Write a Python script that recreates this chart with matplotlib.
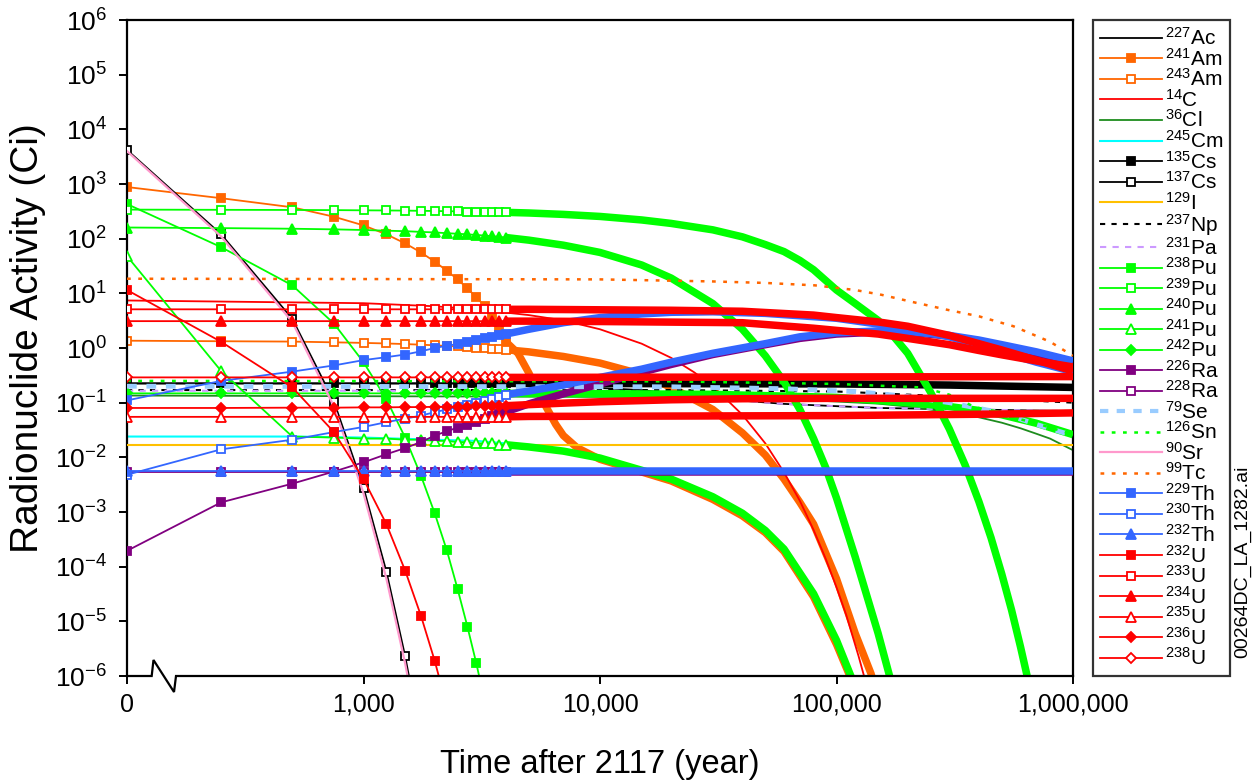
import numpy as np
import matplotlib
matplotlib.use("Agg")
import matplotlib.pyplot as plt
from matplotlib.lines import Line2D
from matplotlib.ticker import FixedLocator, FixedFormatter, LogLocator, LogFormatterSciNotation, NullLocator

plt.rcParams['font.family'] = ['Liberation Sans', 'DejaVu Sans']
plt.rcParams['mathtext.fontset'] = 'custom'
plt.rcParams['mathtext.rm'] = 'Liberation Sans'
plt.rcParams['mathtext.it'] = 'Liberation Sans:italic'
plt.rcParams['mathtext.bf'] = 'Liberation Sans:bold'

# ---------------- data (years after 2117, activity in Ci) ----------------
T_EARLY = [0, 250, 500, 750, 1000, 1250, 1500, 1750, 2000, 2250, 2500, 2750, 3000, 3250, 3500, 3750, 4000]

ac227_t = [0, 3000, 7000, 15000, 30000, 60000, 150000, 1000000]
ac227_y = [0.225, 0.225, 0.2, 0.17, 0.12, 0.095, 0.08, 0.07]

am241_t = T_EARLY + [4500, 5000, 5500, 6000, 6500, 7000, 8000, 10000, 15000, 20000, 30000, 40000, 50000, 60000, 80000, 100000, 115000, 130000]
am241_y = [880, 550, 375, 252, 175, 120, 82, 56, 38, 26, 18, 12.3, 8.5, 5.9, 3.5, 2.3, 1.3,
           0.8, 0.35, 0.15, 0.075, 0.04, 0.025, 0.015, 0.0092, 0.0054, 0.0037, 0.0017, 8.5e-4, 4.2e-4, 1.9e-4, 2.8e-5, 3.8e-6, 9e-7, 1.4e-7]

am243_t = T_EARLY + [5000, 7000, 10000, 15000, 20000, 30000, 40000, 50000, 60000, 70000, 80000, 100000, 120000, 140000, 160000]
am243_y = [1.36, 1.33, 1.31, 1.27, 1.24, 1.21, 1.18, 1.15, 1.12, 1.09, 1.07, 1.04, 1.01, 0.99, 0.96, 0.94, 0.93,
           0.85, 0.70, 0.53, 0.33, 0.19, 0.075, 0.028, 0.011, 4e-3, 1.5e-3, 6e-4, 6e-5, 6e-6, 1.1e-6, 1.5e-7]

c14_t = [0, 1000, 2000, 3000, 5000, 7000, 10000, 15000, 20000, 25000, 30000, 40000, 50000, 60000, 70000, 80000, 90000, 100000, 110000, 124000, 140000]
c14_y = [7.4, 6.6, 5.8, 5.1, 4.0, 3.2, 2.2, 1.2, 0.66, 0.36, 0.20, 0.060, 0.018, 5.3e-3, 1.6e-3, 4.7e-4, 1.4e-4, 4.2e-5, 1.3e-5, 2.3e-6, 3.4e-7]

cl36_t = [0, 30000, 80000, 150000, 200000, 300000, 400000, 500000, 600000, 700000, 800000, 900000, 1000000]
cl36_y = [0.135, 0.126, 0.11, 0.096, 0.085, 0.067, 0.054, 0.043, 0.034, 0.027, 0.022, 0.017, 0.0135]

cm245_t = [0, 500, 1000, 2000, 3000, 4000, 5000, 7000, 10000, 15000, 20000, 30000, 40000, 50000, 60000, 80000, 100000, 115000, 130000]
cm245_y = [0.024, 0.024, 0.023, 0.021, 0.020, 0.018, 0.016, 0.0133, 0.0096, 0.0057, 0.0039, 0.0018, 9.3e-4, 4.5e-4, 2.0e-4, 3.1e-5, 4.3e-6, 1.0e-6, 1.5e-7]

cs135_t = T_EARLY + [5000, 100000, 300000, 1000000]
cs135_y = [0.225, 0.225, 0.225, 0.225, 0.225, 0.225, 0.225, 0.225, 0.225, 0.225, 0.225, 0.225, 0.225, 0.225, 0.225, 0.225, 0.225,
           0.225, 0.22, 0.21, 0.19]

cs137_t = [0, 250, 500, 750, 1000, 1250, 1500, 1750]
cs137_y = [4200, 120, 3.4, 0.105, 2.8e-3, 8.1e-5, 2.3e-6, 7e-8]

i129_t = [0, 1000000]
i129_y = [0.017, 0.017]

np237_t = [0, 20000, 100000, 300000, 1000000]
np237_y = [0.17, 0.17, 0.16, 0.13, 0.1]

pa231_t = [0, 5000, 10000, 30000, 60000, 150000, 1000000]
pa231_y = [0.165, 0.165, 0.15, 0.12, 0.095, 0.08, 0.07]

pu238_t = [0, 250, 500, 750, 1000, 1250, 1500, 1750, 2000, 2250, 2500, 2750, 3000, 3250]
pu238_y = [430, 70, 14, 2.8, 0.55, 0.115, 0.023, 4.6e-3, 9.5e-4, 2.0e-4, 3.9e-5, 8e-6, 1.7e-6, 3.5e-7]

pu239_t = T_EARLY + [5000, 7000, 10000, 15000, 20000, 30000, 40000, 50000, 60000, 70000, 80000, 100000, 120000, 150000,
                     175000, 200000, 250000, 300000, 350000, 400000, 450000, 500000, 550000, 600000, 650000, 700000]
pu239_y = [340, 337, 335, 333, 330, 328, 326, 323, 321, 318, 316, 314, 312, 309, 307, 305, 303,
           295, 278, 255, 220, 190, 145, 108, 78, 58, 40, 27, 11.5, 6.5, 3.2,
           1.6, 0.8, 0.155, 0.033, 7.2e-3, 1.55e-3, 3.4e-4, 7.3e-5, 1.6e-5, 3.4e-6, 7.4e-7, 1.6e-7]

pu240_t = T_EARLY + [5000, 7000, 10000, 15000, 20000, 30000, 40000, 50000, 60000, 70000, 80000, 90000, 100000, 120000, 150000, 170000, 180000]
pu240_y = [160, 156, 152, 148, 144, 140, 137, 133, 130, 126, 123, 120, 117, 114, 111, 108, 105,
           94, 76, 56, 33, 19, 6.5, 2.2, 0.72, 0.24, 0.075, 0.022, 6.5e-3, 1.8e-3, 1.5e-4, 6e-6, 8e-7, 2.5e-7]

pu241_t = T_EARLY + [5000, 7000, 10000, 15000, 20000, 30000, 40000, 50000, 60000, 80000, 100000, 115000, 130000]
pu241_y = [48, 0.38, 0.024, 0.023, 0.022, 0.022, 0.021, 0.021, 0.020, 0.020, 0.019, 0.019, 0.018, 0.018, 0.018, 0.017, 0.017,
           0.0155, 0.013, 0.0097, 0.0058, 0.0040, 0.0019, 9.5e-4, 4.6e-4, 2.1e-4, 3.2e-5, 4.5e-6, 1.0e-6, 1.5e-7]

pu242_t = T_EARLY + [5000, 10000, 30000, 100000, 200000, 300000, 400000, 500000, 700000, 1000000]
pu242_y = [0.148, 0.148, 0.148, 0.148, 0.148, 0.148, 0.148, 0.148, 0.148, 0.148, 0.148, 0.148, 0.148, 0.148, 0.148, 0.148, 0.148,
           0.147, 0.146, 0.142, 0.125, 0.10, 0.085, 0.072, 0.06, 0.042, 0.026]

ra226_t = T_EARLY + [5000, 7000, 10000, 15000, 20000, 30000, 50000, 70000, 100000, 150000, 200000, 300000, 400000, 500000, 700000, 1000000]
ra226_y = [1.95e-4, 1.5e-3, 3.3e-3, 5.5e-3, 8.1e-3, 0.0114, 0.0148, 0.019, 0.025, 0.030, 0.035, 0.039, 0.045, 0.051, 0.057, 0.062, 0.068,
           0.095, 0.145, 0.22, 0.36, 0.5, 0.76, 1.15, 1.5, 1.8, 1.95, 1.95, 1.65, 1.35, 1.1, 0.8, 0.55]

ra228_t = T_EARLY + [5000, 1000000]
ra228_y = [0.0055, 0.0055, 0.0055, 0.0055, 0.0055, 0.0055, 0.0055, 0.0055, 0.0055, 0.0055, 0.0055, 0.0055, 0.0055, 0.0055, 0.0055, 0.0055, 0.0055,
           0.0055, 0.0055]

se79_t = [0, 20000, 60000, 120000, 200000, 300000, 500000, 700000, 1000000]
se79_y = [0.2, 0.195, 0.18, 0.16, 0.13, 0.1, 0.065, 0.04, 0.025]

sn126_t = [0, 20000, 100000, 230000, 300000, 380000, 500000, 700000, 1000000]
sn126_y = [0.25, 0.245, 0.22, 0.19, 0.14, 0.085, 0.06, 0.042, 0.026]

sr90_t = [0, 250, 500, 750, 1000, 1250, 1500, 1750]
sr90_y = [4000, 110, 3.0, 0.085, 2.2e-3, 6e-5, 1.7e-6, 5e-8]

tc99_t = [0, 10000, 30000, 50000, 81000, 120000, 155000, 208000, 294000, 400000, 560000, 800000, 1000000]
tc99_y = [18.5, 18, 16.5, 15.5, 14, 11.5, 9.4, 7.0, 5.0, 3.8, 2.5, 1.3, 0.72]

th229_t = T_EARLY + [5000, 7000, 10000, 15000, 20000, 30000, 50000, 100000, 200000, 300000, 500000, 700000, 1000000]
th229_y = [0.11, 0.25, 0.37, 0.48, 0.6, 0.68, 0.76, 0.87, 1.0, 1.1, 1.18, 1.3, 1.4, 1.5, 1.6, 1.7, 1.8,
           2.2, 2.9, 3.6, 4.2, 4.5, 4.6, 4.3, 3.5, 2.3, 1.6, 0.85, 0.55, 0.37]

th230_t = T_EARLY + [5000, 7000, 10000, 15000, 20000, 30000, 50000, 70000, 100000, 150000, 200000, 300000, 400000, 500000, 700000, 1000000]
th230_y = [4.8e-3, 0.014, 0.021, 0.029, 0.036, 0.044, 0.051, 0.058, 0.067, 0.075, 0.083, 0.092, 0.10, 0.108, 0.117, 0.125, 0.14,
           0.163, 0.21, 0.29, 0.41, 0.55, 0.8, 1.2, 1.6, 1.9, 2.05, 2.0, 1.7, 1.4, 1.15, 0.85, 0.58]

th232_t = T_EARLY + [5000, 1000000]
th232_y = [0.0056, 0.0056, 0.0056, 0.0056, 0.0056, 0.0056, 0.0056, 0.0056, 0.0056, 0.0056, 0.0056, 0.0056, 0.0056, 0.0056, 0.0056, 0.0056, 0.0056,
           0.0056, 0.0056]

u232_t = [0, 250, 500, 750, 1000, 1250, 1500, 1750, 2000, 2250]
u232_y = [11.5, 1.3, 0.19, 0.029, 4.0e-3, 6.0e-4, 8.5e-5, 1.26e-5, 1.9e-6, 2.8e-7]

u233_t = T_EARLY + [5000, 10000, 20000, 40000, 80000, 100000, 150000, 200000, 300000, 400000, 500000, 700000, 1000000]
u233_y = [5.1, 5.1, 5.1, 5.1, 5.1, 5.1, 5.1, 5.1, 5.1, 5.1, 5.1, 5.1, 5.1, 5.1, 5.1, 5.1, 5.1,
          5.1, 5.0, 4.9, 4.7, 4.0, 3.6, 3.0, 2.5, 1.7, 1.2, 0.92, 0.6, 0.38]

u234_t = T_EARLY + [5000, 10000, 40000, 80000, 100000, 150000, 200000, 300000, 400000, 500000, 700000, 1000000]
u234_y = [3.1, 3.1, 3.1, 3.1, 3.1, 3.1, 3.1, 3.1, 3.1, 3.1, 3.1, 3.1, 3.1, 3.1, 3.1, 3.1, 3.1,
          3.1, 3.05, 2.9, 2.3, 2.1, 1.8, 1.5, 1.15, 0.9, 0.75, 0.58, 0.45]

u235_t = T_EARLY + [5000, 100000, 500000, 1000000]
u235_y = [0.055, 0.055, 0.055, 0.055, 0.055, 0.055, 0.055, 0.055, 0.055, 0.055, 0.055, 0.055, 0.055, 0.055, 0.055, 0.055, 0.055,
          0.056, 0.058, 0.062, 0.065]

u236_t = T_EARLY + [5000, 7000, 10000, 20000, 40000, 100000, 1000000]
u236_y = [0.080, 0.080, 0.081, 0.081, 0.082, 0.082, 0.083, 0.083, 0.084, 0.084, 0.085, 0.085, 0.086, 0.086, 0.087, 0.087, 0.088,
          0.092, 0.098, 0.104, 0.113, 0.118, 0.12, 0.12]

u238_t = T_EARLY + [5000, 1000000]
u238_y = [0.29, 0.29, 0.29, 0.29, 0.29, 0.29, 0.29, 0.29, 0.29, 0.29, 0.29, 0.29, 0.29, 0.29, 0.29, 0.29, 0.29,
          0.29, 0.30]

X_TICKS = [100, 1000, 10000, 100000, 1000000]
X_TICK_LABELS = ['0', '1,000', '10,000', '100,000', '1,000,000']

# ---------------- styles ----------------
ORANGE = '#FF6600'
GREEN = '#00FF00'
RED = '#FF0000'
BLUE = '#3366FF'
PURPLE = '#800080'

# (label, t, y, color, marker, filled, linestyle, linewidth)
series = [
    (r'$^{227}$Ac', ac227_t, ac227_y, 'black', None, True, '-', 1.3),
    (r'$^{241}$Am', am241_t, am241_y, ORANGE, 's', True, '-', 1.3),
    (r'$^{243}$Am', am243_t, am243_y, ORANGE, 's', False, '-', 1.3),
    (r'$^{14}$C', c14_t, c14_y, RED, None, True, '-', 1.3),
    (r'$^{36}$Cl', cl36_t, cl36_y, '#1E8C1E', None, True, '-', 1.3),
    (r'$^{245}$Cm', cm245_t, cm245_y, '#00FFFF', None, True, '-', 1.5),
    (r'$^{135}$Cs', cs135_t, cs135_y, 'black', 's', True, '-', 1.3),
    (r'$^{137}$Cs', cs137_t, cs137_y, 'black', 's', False, '-', 1.3),
    (r'$^{129}$I', i129_t, i129_y, '#FFC000', None, True, '-', 1.5),
    (r'$^{237}$Np', np237_t, np237_y, 'black', None, True, (0, (2.5, 3)), 1.5),
    (r'$^{231}$Pa', pa231_t, pa231_y, '#CC99FF', None, True, (0, (3, 3)), 1.5),
    (r'$^{238}$Pu', pu238_t, pu238_y, GREEN, 's', True, '-', 1.3),
    (r'$^{239}$Pu', pu239_t, pu239_y, GREEN, 's', False, '-', 1.3),
    (r'$^{240}$Pu', pu240_t, pu240_y, GREEN, '^', True, '-', 1.3),
    (r'$^{241}$Pu', pu241_t, pu241_y, GREEN, '^', False, '-', 1.3),
    (r'$^{242}$Pu', pu242_t, pu242_y, GREEN, 'D', True, '-', 1.3),
    (r'$^{226}$Ra', ra226_t, ra226_y, PURPLE, 's', True, '-', 1.3),
    (r'$^{228}$Ra', ra228_t, ra228_y, PURPLE, 's', False, '-', 1.3),
    (r'$^{79}$Se', se79_t, se79_y, '#99CCFF', None, True, (0, (2, 2)), 3.5),
    (r'$^{126}$Sn', sn126_t, sn126_y, GREEN, None, True, (0, (1.5, 3)), 1.8),
    (r'$^{90}$Sr', sr90_t, sr90_y, '#FF99CC', None, True, '-', 1.6),
    (r'$^{99}$Tc', tc99_t, tc99_y, ORANGE, None, True, (0, (1.5, 3)), 1.8),
    (r'$^{229}$Th', th229_t, th229_y, BLUE, 's', True, '-', 1.3),
    (r'$^{230}$Th', th230_t, th230_y, BLUE, 's', False, '-', 1.3),
    (r'$^{232}$Th', th232_t, th232_y, BLUE, '^', True, '-', 1.3),
    (r'$^{232}$U', u232_t, u232_y, RED, 's', True, '-', 1.3),
    (r'$^{233}$U', u233_t, u233_y, RED, 's', False, '-', 1.3),
    (r'$^{234}$U', u234_t, u234_y, RED, '^', True, '-', 1.3),
    (r'$^{235}$U', u235_t, u235_y, RED, '^', False, '-', 1.3),
    (r'$^{236}$U', u236_t, u236_y, RED, 'D', True, '-', 1.3),
    (r'$^{238}$U', u238_t, u238_y, RED, 'D', False, '-', 1.3),
]

MS = {'s': 5.8, '^': 6.6, 'D': 4.8}
X_ZERO = 100         # position of the "0" year on the broken log axis
BAND_START = 4000    # markers every 250 y merge into a solid band from here on
BAND_LW = 5.4

W, H = 1256, 783
fig = plt.figure(figsize=(W / 100, H / 100), dpi=100)
ax = fig.add_axes([127 / W, 1 - 676 / H, 946 / W, 656 / H])
ax.set_xscale('log')
ax.set_yscale('log')
ax.set_xlim(100, 1e6)
ax.set_ylim(1e-6, 1e6)

handles = []
for k, (lab, t, y, col, mk, filled, ls, lw) in enumerate(series):
    t = np.asarray(t, dtype=float)
    y = np.asarray(y, dtype=float)
    x = np.where(t <= 0, X_ZERO, t)
    z = 2 + k * 0.1
    ax.plot(x, y, color=col, lw=lw, ls=ls, zorder=z, solid_joinstyle='round')
    if mk is not None:
        late = t >= BAND_START
        if late.sum() > 1:
            ax.plot(x[late], y[late], color=col, lw=BAND_LW, zorder=z,
                    solid_capstyle='butt', solid_joinstyle='round')
        early = t <= BAND_START
        ax.plot(x[early], y[early], ls='none', marker=mk, ms=MS[mk],
                mfc=col if filled else 'white', mec=col, mew=1.3, zorder=z + 0.05)
    handles.append(Line2D([], [], color=col, lw=lw if lw < 3 else 3.0, ls=ls,
                          marker=mk if mk else None, ms=MS.get(mk, 0) if mk else 0,
                          mfc=(col if filled else 'white'), mec=col, mew=1.3))

# axes styling
for sp in ax.spines.values():
    sp.set_linewidth(1.6)
ax.spines['bottom'].set_visible(False)
# broken-axis zigzag on the x axis
ax.plot([0, 0.0261, 0.0280, 0.0497, 0.0518, 1.0], [0, 0, 0.0244, -0.0244, 0, 0],
        transform=ax.transAxes, color='black', lw=1.6, clip_on=False, zorder=50,
        solid_joinstyle='miter')

ax.xaxis.set_major_locator(FixedLocator(X_TICKS))
ax.xaxis.set_major_formatter(FixedFormatter(X_TICK_LABELS))
ax.xaxis.set_minor_locator(NullLocator())
ax.yaxis.set_major_locator(LogLocator(base=10, numticks=20))
ax.yaxis.set_major_formatter(LogFormatterSciNotation())
ax.yaxis.set_minor_locator(NullLocator())
ax.tick_params(axis='x', direction='out', length=6, width=1.4, labelsize=18, pad=6)
ax.tick_params(axis='y', direction='out', length=6, width=1.4, labelsize=19, pad=8.5)

ax.set_xlabel('Time after 2117 (year)', fontsize=23.5, labelpad=23)
ax.set_ylabel('Radionuclide Activity (Ci)', fontsize=28, labelpad=6)
ax.yaxis.label.set_y(0.515)

leg = fig.legend(handles, [s[0] for s in series], loc='upper left',
                 bbox_to_anchor=(1093 / W, 1 - 20 / H), fontsize=15,
                 handlelength=2.95, handletextpad=0.15, labelspacing=-0.066,
                 borderpad=0.35, borderaxespad=0, numpoints=1, fancybox=False,
                 frameon=True)
leg.get_frame().set_edgecolor('black')
leg.get_frame().set_linewidth(1.6)

fig.text(1243 / W, 1 - 562 / H, '00264DC_LA_1282.ai', rotation=90, fontsize=14,
         ha='center', va='center')

fig.savefig('out.png', dpi=100)
